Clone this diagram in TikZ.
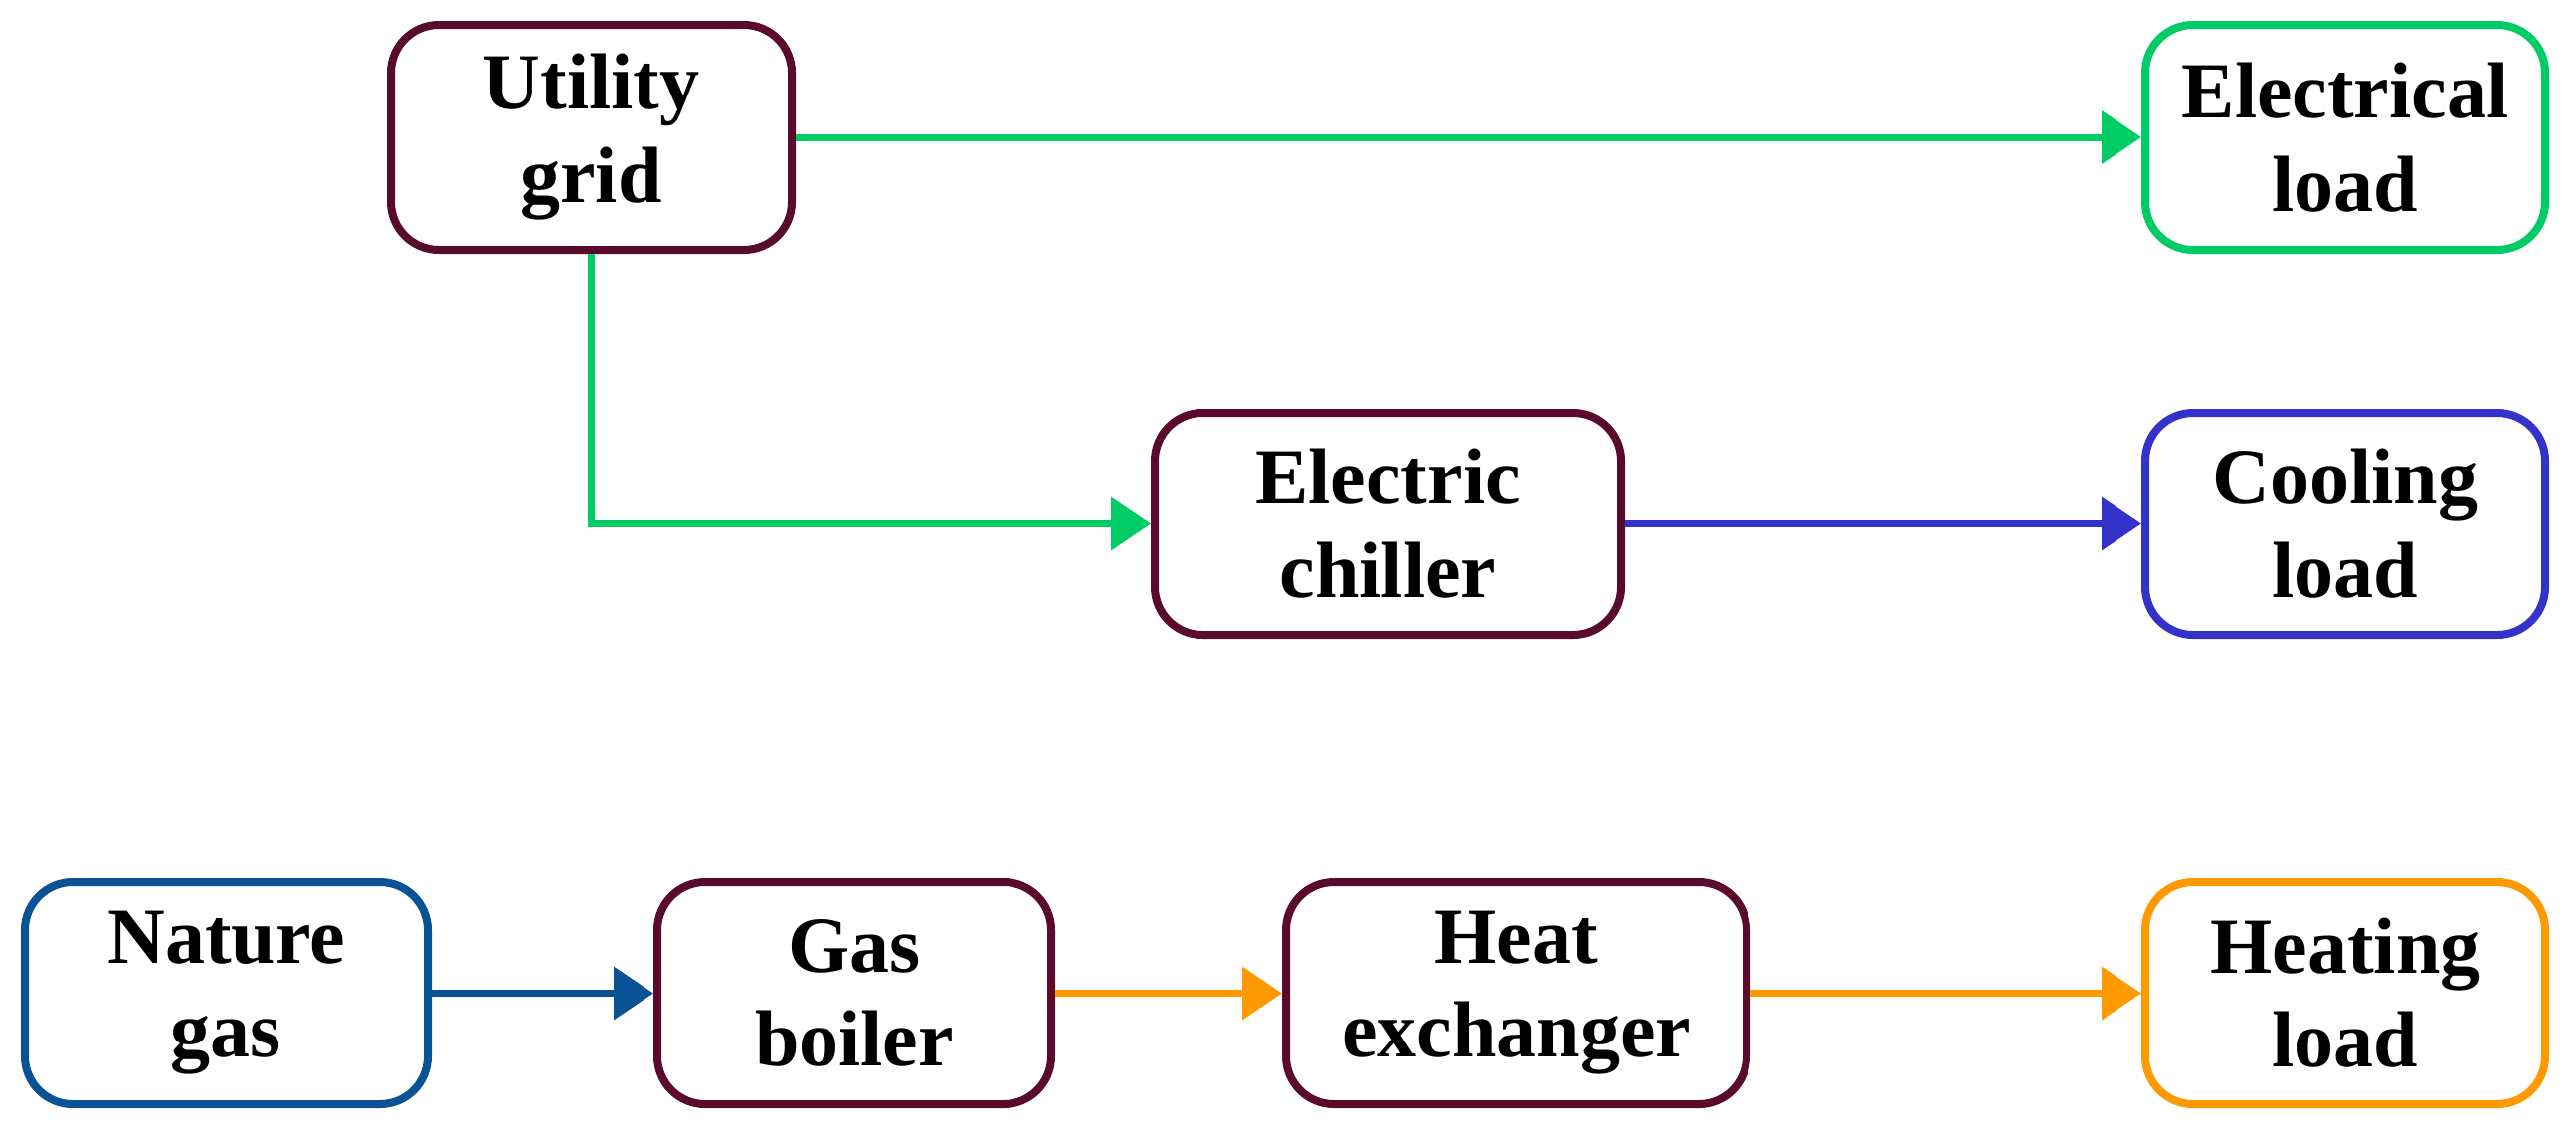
\documentclass[tikz,border=0pt]{standalone}
\usepackage{fontspec}
\setmainfont{Liberation Serif}
\usetikzlibrary{arrows.meta}
\definecolor{mar}{HTML}{5A0A2A}
\definecolor{grn}{HTML}{00CC66}
\definecolor{blu}{HTML}{3333CC}
\definecolor{ngb}{HTML}{0A5296}
\definecolor{org}{HTML}{FF9900}
\begin{document}
\begin{tikzpicture}[x=1pt,y=-1pt,
 box/.style={draw=#1,line width=8pt,rounded corners=48pt,align=center,
   font=\fontsize{80}{94}\selectfont\bfseries,inner sep=0pt},
 arr/.style={draw=#1,line width=7pt,-{Triangle[length=40pt,width=52pt]}}]
\useasboundingbox (0,0) rectangle (2590,1141);
\def\bx(#1,#2,#3,#4)#5#6#7{\node[box=#5,minimum width=#3-#1,minimum height=#4-#2] (#6) at ({(#1+#3)/2},{(#2+#4)/2}) {#7};}
\bx(393,25,796,251){mar}{ug}{Utility\\grid}
\bx(2157,25,2559,251){grn}{el}{Electrical\\load}
\bx(1161,415,1630,638){mar}{ec}{Electric\\chiller}
\bx(2157,415,2559,638){blu}{cl}{Cooling\\load}
\bx(25,887,430,1110){ngb}{ng}{Nature\\gas}
\bx(661,887,1057,1110){mar}{gb}{Gas\\boiler}
\bx(1293,887,1756,1110){mar}{he}{Heat\\exchanger}
\bx(2157,887,2559,1110){org}{hl}{Heating\\load}
\draw[arr=grn] (ug.east) -- (el.west);
\draw[arr=grn] (ug.south) |- (ec.west);
\draw[arr=blu] (ec.east) -- (cl.west);
\draw[arr=ngb] (ng.east) -- (gb.west);
\draw[arr=org] (gb.east) -- (he.west);
\draw[arr=org] (he.east) -- (hl.west);
\end{tikzpicture}
\end{document}
